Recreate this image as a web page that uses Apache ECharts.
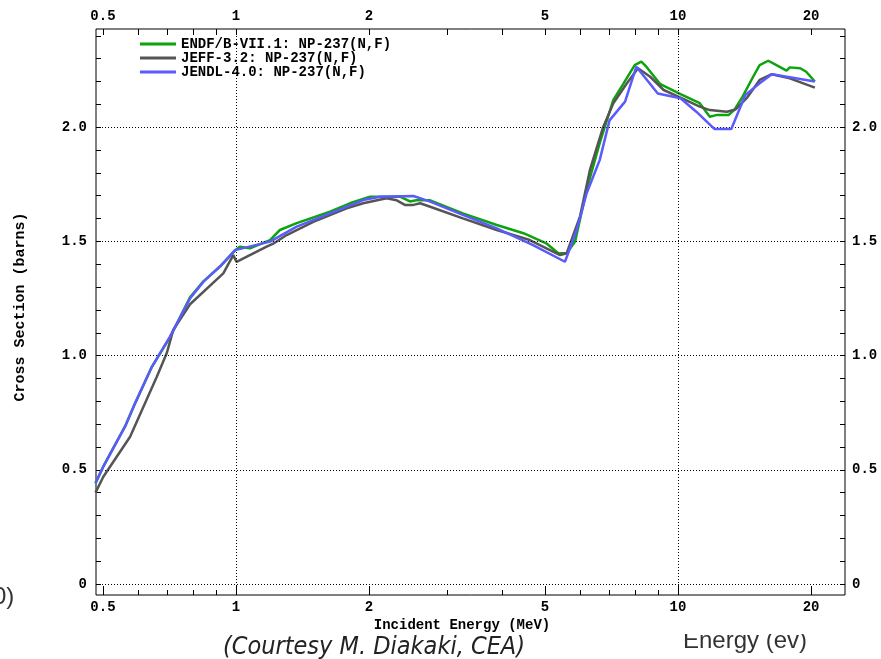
<!DOCTYPE html>
<html>
<head>
<meta charset="utf-8">
<script src="https://cdn.jsdelivr.net/npm/echarts@6/dist/echarts.min.js"></script>
<style>
  html, body { margin: 0; padding: 0; background: #fff; }
  #chart { width: 881px; height: 659px; }
</style>
</head>
<body>
<div id="chart"></div>
<script>
// ENDF/B-VII.1 (green)
const endfE = [0.481, 0.501, 0.561, 0.591, 0.645, 0.709, 0.787, 0.844, 0.92, 0.995, 1.02, 1.075, 1.194, 1.257, 1.372, 1.632, 1.81, 2.01, 2.35, 2.475, 2.56, 2.75, 3.26, 3.89, 4.47, 5.05, 5.36, 5.6, 5.85, 6.21, 6.65, 7.14, 7.52, 7.98, 8.26, 8.48, 9.1, 10.13, 11.2, 11.8, 12.2, 13.0, 13.4, 14.0, 14.8, 15.3, 16.0, 16.7, 17.6, 17.9, 18.9, 19.5, 20.4];
const endfXS = [0.44, 0.515, 0.69, 0.79, 0.95, 1.08, 1.255, 1.325, 1.39, 1.46, 1.477, 1.47, 1.506, 1.55, 1.58, 1.63, 1.667, 1.696, 1.696, 1.675, 1.68, 1.68, 1.623, 1.572, 1.536, 1.49, 1.448, 1.448, 1.5, 1.725, 1.93, 2.12, 2.19, 2.272, 2.287, 2.265, 2.19, 2.145, 2.105, 2.046, 2.053, 2.053, 2.075, 2.134, 2.222, 2.272, 2.291, 2.272, 2.248, 2.262, 2.258, 2.243, 2.2];

// JEFF-3.2 (grey)
const jeffE = [0.481, 0.501, 0.576, 0.662, 0.697, 0.721, 0.787, 0.936, 0.986, 1.003, 1.173, 1.214, 1.302, 1.496, 1.78, 1.94, 2.19, 2.31, 2.41, 2.52, 2.61, 2.75, 3.26, 3.89, 4.62, 5.41, 5.6, 6.0, 6.32, 6.77, 7.14, 7.65, 8.12, 8.65, 9.28, 10.13, 11.2, 11.8, 12.9, 13.5, 14.3, 15.3, 16.3, 17.9, 20.4];
const jeffXS = [0.40, 0.47, 0.645, 0.908, 1.01, 1.112, 1.225, 1.36, 1.44, 1.41, 1.477, 1.49, 1.528, 1.586, 1.645, 1.667, 1.689, 1.68, 1.66, 1.66, 1.667, 1.652, 1.601, 1.55, 1.506, 1.44, 1.448, 1.608, 1.813, 2.0, 2.105, 2.19, 2.258, 2.221, 2.163, 2.13, 2.09, 2.075, 2.068, 2.078, 2.127, 2.207, 2.232, 2.214, 2.173];

// JENDL-4.0 (blue)
const jendlE = [0.481, 0.501, 0.561, 0.591, 0.645, 0.709, 0.787, 0.844, 0.92, 0.995, 1.003, 1.194, 1.372, 1.632, 1.94, 2.117, 2.52, 2.75, 3.26, 3.89, 4.7, 5.55, 5.9, 6.21, 6.65, 7.0, 7.59, 8.05, 9.0, 10.13, 11.0, 12.1, 13.2, 14.2, 15.3, 16.3, 17.9, 20.4];
const jendlXS = [0.443, 0.514, 0.689, 0.791, 0.951, 1.083, 1.25, 1.324, 1.39, 1.462, 1.47, 1.499, 1.565, 1.623, 1.681, 1.696, 1.699, 1.674, 1.616, 1.557, 1.484, 1.411, 1.55, 1.71, 1.856, 2.03, 2.112, 2.265, 2.148, 2.127, 2.068, 1.992, 1.992, 2.141, 2.192, 2.232, 2.219, 2.2];

const seriesNames = ['ENDF/B-VII.1: NP-237(N,F)', 'JEFF-3.2: NP-237(N,F)', 'JENDL-4.0: NP-237(N,F)'];

// axis ticks (energies in MeV, cross sections in barns)
const xLabelValues = [0.5, 1, 2, 5, 10, 20];
const xMinorTicks = [0.6, 0.7, 0.8, 0.9, 3, 4, 6, 7, 8, 9];
const xAllTicks = [0.5, 0.6, 0.7, 0.8, 0.9, 1, 2, 3, 4, 5, 6, 7, 8, 9, 10, 20];
const xGridValues = [1, 10];
const yLabelValues = [0, 0.5, 1.0, 1.5, 2.0];
const yTicks = [0, 0.1, 0.2, 0.3, 0.4, 0.5, 0.6, 0.7, 0.8, 0.9, 1.0, 1.1, 1.2, 1.3, 1.4, 1.5, 1.6, 1.7, 1.8, 1.9, 2.0, 2.1, 2.2, 2.3, 2.4];
const yGridValues = [0, 0.5, 1.0, 1.5, 2.0];

const lg = (v) => Math.log10(v);
const pairs = (es, xs) => es.map((e, i) => [lg(e), xs[i]]);

const monoFont = { fontFamily: 'Liberation Mono', fontWeight: 'bold', fontSize: 14, color: '#000' };
const xMin = -0.3167, xMax = 1.3778;
const yMin = -0.048, yMax = 2.43;

const xFmt = (v) => String(Math.round(Math.pow(10, v) * 10) / 10);
const yFmt = (v) => (Math.abs(v) < 1e-9 ? '0' : v.toFixed(1));

const baseX = {
  type: 'value', min: xMin, max: xMax,
  axisLine: { show: false, onZero: false }, splitLine: { show: false },
};
const baseY = {
  type: 'value', min: yMin, max: yMax,
  axisLine: { show: false, onZero: false }, splitLine: { show: false },
};

const chart = echarts.init(document.getElementById('chart'));

const option = {
  animation: false,
  backgroundColor: '#fff',
  grid: { left: 96, right: 36, top: 29, bottom: 64, show: true, borderColor: '#000', borderWidth: 1, backgroundColor: 'transparent' },
  legend: {
    data: seriesNames,
    orient: 'vertical',
    left: 135, top: 32,
    itemWidth: 36, itemHeight: 3, itemGap: 0,
    icon: 'rect',
    textStyle: { fontFamily: 'Liberation Mono', fontWeight: 'bold', fontSize: 14, color: '#000', lineHeight: 14 },
  },
  xAxis: [
    Object.assign({}, baseX, {
      position: 'bottom',
      axisTick: { show: true, inside: true, length: 9, customValues: xLabelValues.map(lg), lineStyle: { color: '#000' } },
      axisLabel: Object.assign({ customValues: xLabelValues.map(lg), formatter: xFmt, margin: 5 }, monoFont),
    }),
    Object.assign({}, baseX, {
      position: 'bottom',
      axisTick: { show: true, inside: true, length: 5, customValues: xMinorTicks.map(lg), lineStyle: { color: '#000' } },
      axisLabel: { show: false },
    }),
    Object.assign({}, baseX, {
      position: 'top',
      axisTick: { show: true, inside: true, length: 6, customValues: xAllTicks.map(lg), lineStyle: { color: '#000' } },
      axisLabel: Object.assign({ customValues: xLabelValues.map(lg), formatter: xFmt, margin: 6 }, monoFont),
    }),
  ],
  yAxis: [
    Object.assign({}, baseY, {
      position: 'left',
      axisTick: { show: true, inside: true, length: 5, customValues: yTicks, lineStyle: { color: '#000' } },
      axisLabel: Object.assign({ customValues: yLabelValues, formatter: yFmt, margin: 9 }, monoFont),
    }),
    Object.assign({}, baseY, {
      position: 'right',
      axisTick: { show: true, inside: true, length: 5, customValues: yTicks, lineStyle: { color: '#000' } },
      axisLabel: Object.assign({ customValues: yLabelValues, formatter: yFmt, margin: 7 }, monoFont),
    }),
  ],
  graphic: [
    { type: 'text', x: 462, y: 625, style: { text: 'Incident Energy (MeV)', font: 'bold 14px "Liberation Mono"', fill: '#000', align: 'center', verticalAlign: 'middle' } },
    { type: 'text', x: 20, y: 307, rotation: Math.PI / 2, style: { text: 'Cross Section (barns)', font: 'bold 15px "Liberation Mono"', fill: '#000', align: 'center', verticalAlign: 'middle' } },
    { type: 'text', x: 374, y: 647, style: { text: '(Courtesy M. Diakaki, CEA)', font: 'italic 25px "Liberation Sans Narrow", "DejaVu Sans Condensed", "Liberation Sans", sans-serif', fill: '#222', align: 'center', verticalAlign: 'middle' } },
    { type: 'text', x: 745, y: 641, style: { text: 'Energy (ev)', font: '24px "Liberation Sans", sans-serif', fill: '#333', align: 'center', verticalAlign: 'middle' } },
    { type: 'rect', shape: { x: 670, y: 612, width: 160, height: 22 }, style: { fill: '#fff' }, z: 100 },
    { type: 'text', x: -7, y: 597, style: { text: '0)', font: '24px "Liberation Sans", sans-serif', fill: '#333', verticalAlign: 'middle' } },
  ],
  series: [
    {
      name: 'grid', type: 'line', data: [], silent: true,
      markLine: {
        silent: true, symbol: 'none', label: { show: false },
        lineStyle: { color: '#000', width: 1, type: [1, 2] },
        data: xGridValues.map((v) => ({ xAxis: lg(v) })).concat(yGridValues.map((v) => ({ yAxis: v }))),
      },
    },
    { name: seriesNames[0], type: 'line', data: pairs(endfE, endfXS), showSymbol: false, symbol: 'none', lineStyle: { color: '#0ca30c', width: 2.5 }, itemStyle: { color: '#0ca30c' }, z: 3 },
    { name: seriesNames[1], type: 'line', data: pairs(jeffE, jeffXS), showSymbol: false, symbol: 'none', lineStyle: { color: '#555555', width: 2.5 }, itemStyle: { color: '#555555' }, z: 4 },
    { name: seriesNames[2], type: 'line', data: pairs(jendlE, jendlXS), showSymbol: false, symbol: 'none', lineStyle: { color: '#5a5aff', width: 2.5 }, itemStyle: { color: '#5a5aff' }, z: 5 },
  ],
};

chart.setOption(option);
</script>
</body>
</html>
